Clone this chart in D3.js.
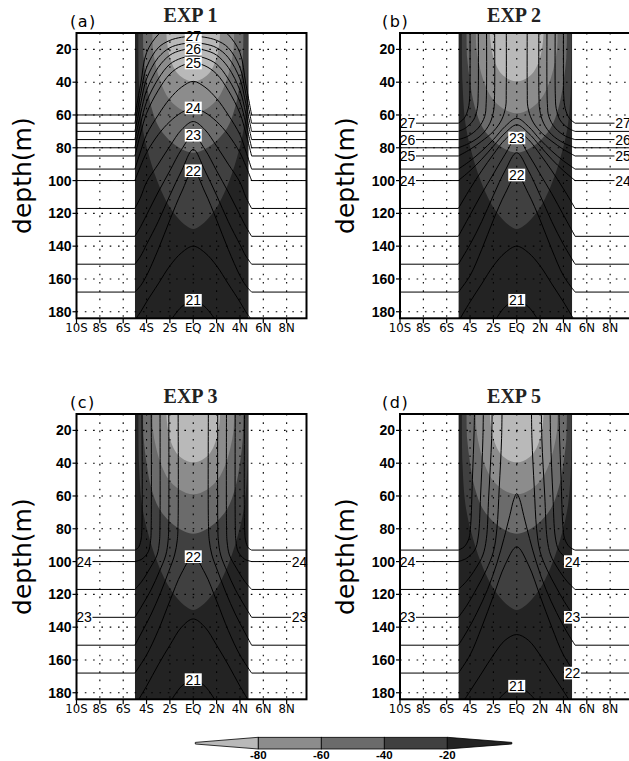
<!DOCTYPE html>
<html><head><meta charset="utf-8">
<script src="https://cdn.jsdelivr.net/npm/d3@7"></script>
<style>body{margin:0;background:#fff}svg{display:block}</style>
</head><body><svg id="c" width="629" height="761"></svg>
<script>
// ---------------- data ----------------
const latTicks = [-10,-8,-6,-4,-2,0,2,4,6,8];
const latTickLabels = ["10S","8S","6S","4S","2S","EQ","2N","4N","6N","8N"];
const depthTicks = [20,40,60,80,100,120,140,160,180];
const gridLats = [-8,-6,-4,-2,0,2,4,6,8];
const panelLetters = ["(a)","(b)","(c)","(d)"];
const panelTitles = ["EXP 1","EXP 2","EXP 3","EXP 5"];
const dataLatRange = [-5, 4.75];
const cbLevels = [-80,-60,-40,-20];
const cbLabels = ["-80","-60","-40","-20"];
// fill colours: <-80, -80..-60, -60..-40, -40..-20, >-20
const shadeColors = ["#b9b9b9","#8c8c8c","#6b6b6b","#404040","#232323"];
// shading boundaries, left half [lat, depth]
const boundM20 = [[-4.7,10],[-4.65,40],[-4.4,65],[-3.9,82],[-3.1,100],[-2.2,114],[-1.3,123],[-0.6,127.5],[0,129.5]];
const boundM40 = [[-4.3,10],[-4.25,25],[-4.0,40],[-3.6,55],[-2.9,68],[-1.8,77],[-0.8,81.5],[0,83]];
const boundM60 = [[-3.5,10],[-3.45,20],[-3.2,30],[-2.8,40],[-2.1,50],[-1.2,56],[0,59]];
const boundM80 = [[-2.3,10],[-2.25,15],[-2.1,22],[-1.8,29],[-1.3,35],[-0.6,38.5],[0,39.5]];

// isotherms (left half [lat, depth]); mirrored about the equator
const exp1Temps = [27.5,27,26.5,26,25.5,25,24.5,24,23.5,23,22.5,22,21.5,21];
const exp1Lines = [
 [[-10,60],[-5,60],[-4.5,41],[-4,22],[-3,11],[-2,6],[-1,4],[0,3.5]],
 [[-10,65],[-5,65],[-4.5,47],[-4,31],[-3,19],[-2,14.5],[-1,12.6],[0,12]],
 [[-10,70],[-5,70],[-4.5,53],[-4,38],[-3,25],[-2,19],[-1,16.7],[0,16]],
 [[-10,75],[-5,75],[-4.5,59],[-4,45],[-3,31],[-2,23.5],[-1,20.5],[0,19.6]],
 [[-10,80],[-5,80],[-4.5,65],[-4,52],[-3,38],[-2,29],[-1,25.3],[0,24]],
 [[-10,85],[-5,85],[-4.5,71],[-4,59],[-3,45],[-2,35],[-1,30],[0,28.3]],
 [[-10,93],[-5,93],[-4.5,82],[-4,72],[-3,60],[-2,50],[-1,43],[0,39.5]],
 [[-10,100],[-5,100],[-4.5,91],[-4,83],[-3,72],[-2,64],[-1,58.5],[0,55.7]],
 [[-10,117],[-5,117],[-4.5,110],[-4,101],[-3,90],[-2,79],[-1,69],[0,64]],
 [[-10,134],[-5,134],[-4.5,128],[-4,121],[-3,107],[-2,94],[-1,81],[0,72.4]],
 [[-10,151],[-5,151],[-4.5,146],[-4,139],[-3,125],[-2,109],[-1,94],[0,81]],
 [[-10,168],[-5,168],[-4.5,164],[-4,158],[-3,142],[-2,124],[-1,107],[0,94]],
 [[-5,185],[-4.5,180],[-4,174],[-3,163],[-2,152],[-1,144],[0,140]],
 [[-2,186],[-1,177],[0,173]]
];
const exp2Temps = [27,26.5,26,25.5,25,24.5,24,23.5,23,22.5,22,21.5,21];
const exp2Lines = [
 [[-10,65],[-5,65],[-4.5,62],[-4.15,56],[-4.02,48],[-4,35],[-4,0]],
 [[-10,70],[-5,70],[-4.4,68],[-3.7,63],[-3.38,56],[-3.3,47],[-3.3,0]],
 [[-10,75],[-5,75],[-4.2,73],[-3.3,68],[-2.75,61],[-2.62,53],[-2.6,0]],
 [[-10,80],[-5,80],[-4,77],[-3,72],[-2.3,65],[-1.97,57],[-1.9,48],[-1.9,0]],
 [[-10,85],[-5,85],[-4,81],[-3,76],[-2,70],[-1.3,63],[-0.95,55],[-0.9,45],[-0.9,0]],
 [[-10,93],[-5,93],[-4,88],[-3,82],[-2,75],[-1,67],[0,62]],
 [[-10,100],[-5,100],[-4,94],[-3,87],[-2,79],[-1,71],[0,66]],
 [[-10,117],[-5,117],[-4,105],[-3,94],[-2,84],[-1,75],[0,70]],
 [[-10,134],[-5,134],[-4,121],[-3,108],[-2,96],[-1,84],[0,74]],
 [[-10,151],[-5,151],[-4,139],[-3,125],[-2,109],[-1,94],[0,83]],
 [[-10,168],[-5,168],[-4,158],[-3,142],[-2,124],[-1,108],[0,96.6]],
 [[-5,186],[-4,174],[-3,163],[-2,152],[-1,144],[0,140]],
 [[-2,187],[-1,177],[0,173]]
];
const exp3Temps = [24.5,24,23.5,23,22.5,22,21.5,21];
const exp3Lines = [
 [[-10,93],[-5,93],[-4.7,91.5],[-4.48,87],[-4.4,80],[-4.4,0]],
 [[-10,100],[-5,100],[-4.4,98.5],[-3.85,94],[-3.65,87],[-3.6,78],[-3.6,0]],
 [[-10,117],[-5,117],[-4.4,112],[-3.7,104],[-3.1,96],[-2.9,88],[-2.85,78],[-2.85,0]],
 [[-10,134],[-5,134],[-4.4,127],[-3.6,117],[-2.9,106],[-2.35,96],[-2.15,87],[-2.1,77],[-2.1,0]],
 [[-10,151],[-5,151],[-4.4,143],[-3.6,132],[-2.8,119],[-2.1,106],[-1.6,96],[-1.37,87],[-1.3,77],[-1.3,0]],
 [[-10,168],[-5,168],[-4,157],[-3,142],[-2,124],[-1,107],[0,97]],
 [[-5,188],[-4,176],[-3,163],[-2,151],[-1,140],[0,135]],
 [[-2,186],[-1,176],[0,172]]
];
const exp5Temps = [24.5,24,23.5,23,22.5,22,21.5,21];
const exp5Lines = [
 [[-10,93],[-5,93],[-4.5,91],[-4.1,86],[-3.95,78],[-3.8,50],[-3.65,20],[-3.6,0]],
 [[-10,100],[-5,100],[-4.3,98],[-3.6,93],[-3.3,85],[-3.1,60],[-2.9,25],[-2.85,0]],
 [[-10,117],[-5,117],[-4.3,112],[-3.5,104],[-2.9,96],[-2.6,86],[-2.4,60],[-2.15,25],[-2.1,0]],
 [[-10,134],[-5,134],[-4.3,127],[-3.4,116],[-2.6,105],[-2.0,94],[-1.7,80],[-1.5,55],[-1.3,25],[-1.25,0]],
 [[-10,151],[-5,151],[-4.3,143],[-3.4,131],[-2.5,117],[-1.7,101],[-1.1,86],[-0.6,72],[-0.25,62],[0,58.5]],
 [[-10,168],[-5,168],[-4,157],[-3,140],[-2,121],[-1,102],[0,91]],
 [[-5,190],[-4,179],[-3,168],[-2,157],[-1,148],[0,144.5]],
 [[-2,188],[-1,180],[0,176]]
];
// contour labels [text, lat, depth]
const exp1Labels = [["27",0,12],["26",0,19.6],["25",0,28.3],["24",0,55.7],["23",0,72.4],["22",0,94],["21",0,173]];
const exp2Labels = [["23",0,74],["22",0,96.6],["21",0,173],["27",-9.36,65],["26",-9.36,75],["25",-9.36,85],["24",-9.36,100],["27",9.1,65],["26",9.1,75],["25",9.1,85],["24",9.1,100]];
const exp3Labels = [["22",0,97],["21",0,172],["24",-9.36,100],["23",-9.36,134],["24",9.1,100],["23",9.1,134]];
const exp5Labels = [["21",0,176],["24",4.77,100],["23",4.77,134],["22",4.77,168],["24",-9.36,100],["23",-9.36,134]];

// ---------------- drawing ----------------
const svg = d3.select("#c");
const x = d3.scaleLinear().domain([-10, 9.7]).range([76.5, 306.5]);
const y = d3.scaleLinear().domain([10, 184]).range([33, 318.3]);
const X0 = x(-10), X1 = x(9.7), Y0 = y(10), Y1 = y(184);
const panelOffsets = [[0,0],[323.5,0],[0,381],[323.5,381]];
const panelLines = [exp1Lines, exp2Lines, exp3Lines, exp5Lines];
const panelTemps = [exp1Temps, exp2Temps, exp3Temps, exp5Temps];
const panelLabels = [exp1Labels, exp2Labels, exp3Labels, exp5Labels];
const letterX = [70, 382, 70, 382];

const mirror = pts => pts.map(([a,d]) => [-a,d]).reverse();
const line = d3.line().x(d=>x(d[0])).y(d=>y(d[1])).curve(d3.curveCatmullRom.alpha(0.5));

// straight outside the data band, smooth inside it
function contourD(pts) {
  let s = 0; while (s+1 < pts.length && pts[s][0] <= -5 && pts[s+1][0] <= -5) s++;
  let e = pts.length-1; while (e-1 >= 0 && pts[e][0] >= 5 && pts[e-1][0] >= 5) e--;
  let d = line(pts.slice(s, e+1));
  if (s > 0) d = `M${x(pts[0][0])},${y(pts[0][1])}L` + d.slice(1);
  for (let i = e+1; i < pts.length; i++) d += `L${x(pts[i][0])},${y(pts[i][1])}`;
  return d;
}

const defs = svg.append("defs");
defs.append("clipPath").attr("id","plotclip").append("rect")
  .attr("x",X0).attr("y",Y0).attr("width",X1-X0).attr("height",Y1-Y0);
defs.append("clipPath").attr("id","dataclip").append("rect")
  .attr("x",x(dataLatRange[0])).attr("y",Y0).attr("width",x(dataLatRange[1])-x(dataLatRange[0])).attr("height",Y1-Y0);

panelOffsets.forEach(([dx,dy], pi) => {
  const g = svg.append("g").attr("transform",`translate(${dx},${dy})`);
  g.append("rect").attr("x",X0).attr("y",Y0).attr("width",X1-X0).attr("height",Y1-Y0).attr("fill","#fff");
  // shading
  const sg = g.append("g").attr("clip-path","url(#dataclip)");
  sg.append("rect").attr("x",x(dataLatRange[0])).attr("y",Y0)
    .attr("width",x(dataLatRange[1])-x(dataLatRange[0])).attr("height",Y1-Y0).attr("fill",shadeColors[4]);
  [boundM20, boundM40, boundM60, boundM80].forEach((b, i) => {
    const full = b.concat(mirror(b).slice(1));
    sg.append("path").attr("d", line(full) + "Z").attr("fill", shadeColors[3-i]).attr("stroke","none");
  });
  // dotted grid
  const gg = g.append("g").attr("clip-path","url(#plotclip)");
  gg.selectAll("line.v").data(gridLats).join("line")
    .attr("x1",d=>x(d)).attr("x2",d=>x(d)).attr("y1",Y0).attr("y2",Y1)
    .attr("stroke","#000").attr("stroke-width",1.1).attr("stroke-dasharray","1.6,6.7");
  gg.selectAll("line.h").data(depthTicks).join("line")
    .attr("y1",d=>y(d)).attr("y2",d=>y(d)).attr("x1",X0).attr("x2",X1)
    .attr("stroke","#000").attr("stroke-width",1.1).attr("stroke-dasharray","1.6,6.7");
  // contours
  const cg = g.append("g").attr("clip-path","url(#plotclip)");
  panelLines[pi].forEach((pts, k) => {
    const last = pts[pts.length-1];
    const open = last[1] <= 10;
    const paths = open ? [pts, mirror(pts)] : [pts.concat(mirror(pts).slice(1))];
    paths.forEach(p => cg.append("path").attr("d", contourD(p)).attr("fill","none")
      .attr("stroke","#000").attr("stroke-width",1).attr("data-t", panelTemps[pi][k]));
  });
  // contour labels
  const lg = g.append("g");
  panelLabels[pi].forEach(([t, la, de]) => {
    const cx = x(la), cy = y(de);
    lg.append("rect").attr("x",cx-8.5).attr("y",cy-6.3).attr("width",17).attr("height",12.6).attr("fill","#fff");
    lg.append("text").attr("x",cx).attr("y",cy+5).attr("text-anchor","middle")
      .attr("font-family","Liberation Sans, Arial, sans-serif").attr("font-size",14).attr("fill","#000").text(t);
  });
  // frame
  g.append("rect").attr("x",X0).attr("y",Y0).attr("width",X1-X0).attr("height",Y1-Y0)
    .attr("fill","none").attr("stroke","#000").attr("stroke-width",2);
  // y axis
  g.selectAll("line.yt").data(depthTicks).join("line")
    .attr("x1",X0-4).attr("x2",X0).attr("y1",d=>y(d)).attr("y2",d=>y(d)).attr("stroke","#000").attr("stroke-width",1.2);
  g.selectAll("text.yl").data(depthTicks).join("text")
    .attr("x",X0-5).attr("y",d=>y(d)+5).attr("text-anchor","end")
    .attr("font-family","Liberation Sans, Arial, sans-serif").attr("font-weight","bold").attr("font-size",14)
    .text(d=>d);
  // x axis
  g.selectAll("line.xt").data(latTicks).join("line")
    .attr("x1",d=>x(d)).attr("x2",d=>x(d)).attr("y1",Y1).attr("y2",Y1+5).attr("stroke","#000").attr("stroke-width",1.2);
  g.selectAll("text.xl").data(latTicks).join("text")
    .attr("x",d=>x(d)).attr("y",Y1+13.5).attr("text-anchor","middle")
    .attr("font-family","Liberation Sans Narrow, DejaVu Sans Condensed, sans-serif").attr("font-size",13)
    .text((d,i)=>latTickLabels[i]);
  // axis title
  g.append("text").attr("transform",`translate(${X0-46},${(Y0+Y1)/2}) rotate(-90)`)
    .attr("text-anchor","middle").attr("font-family","DejaVu Sans, sans-serif").attr("font-size",25).text("depth(m)");
  // title & letter
  g.append("text").attr("x",(X0+X1)/2 - 1).attr("y",21.5).attr("text-anchor","middle")
    .attr("font-family","Liberation Serif, Times New Roman, serif").attr("font-weight","bold").attr("font-size",20)
    .attr("fill","#222").text(panelTitles[pi]);
  g.append("text").attr("x",letterX[pi]-dx).attr("y",26.5).attr("font-family","DejaVu Sans, sans-serif")
    .attr("font-size",16).attr("letter-spacing",1.5).text(panelLetters[pi]);
});

// ---------------- colour bar ----------------
const cb = d3.scaleLinear().domain([-80,-20]).range([258.3,447.3]);
const cbY0 = 737.3, cbY1 = 749, cbMid = 743.2;
const step = cb(-60) - cb(-80);
const cg = svg.append("g");
cg.append("path").attr("d",`M${cb(-80)},${cbY0}L${cb(-80)-step},${cbMid-0.8}L${cb(-80)-step},${cbMid+0.8}L${cb(-80)},${cbY1}Z`)
  .attr("fill",shadeColors[0]).attr("stroke","#000").attr("stroke-width",0.8);
d3.pairs(cbLevels).forEach(([a,b],i) => {
  cg.append("rect").attr("x",cb(a)).attr("y",cbY0).attr("width",cb(b)-cb(a)).attr("height",cbY1-cbY0)
    .attr("fill",shadeColors[i+1]).attr("stroke","#000").attr("stroke-width",0.8);
});
cg.append("path").attr("d",`M${cb(-20)},${cbY0}L${cb(-20)+step+1.5},${cbMid-0.8}L${cb(-20)+step+1.5},${cbMid+0.8}L${cb(-20)},${cbY1}Z`)
  .attr("fill",shadeColors[4]).attr("stroke","#000").attr("stroke-width",0.8);
cg.selectAll("text").data(cbLevels).join("text")
  .attr("x",d=>cb(d)).attr("y",758.5).attr("text-anchor","middle")
  .attr("font-family","Liberation Sans, Arial, sans-serif").attr("font-weight","bold").attr("font-size",11.5)
  .text((d,i)=>cbLabels[i]);
</script>
</body></html>
